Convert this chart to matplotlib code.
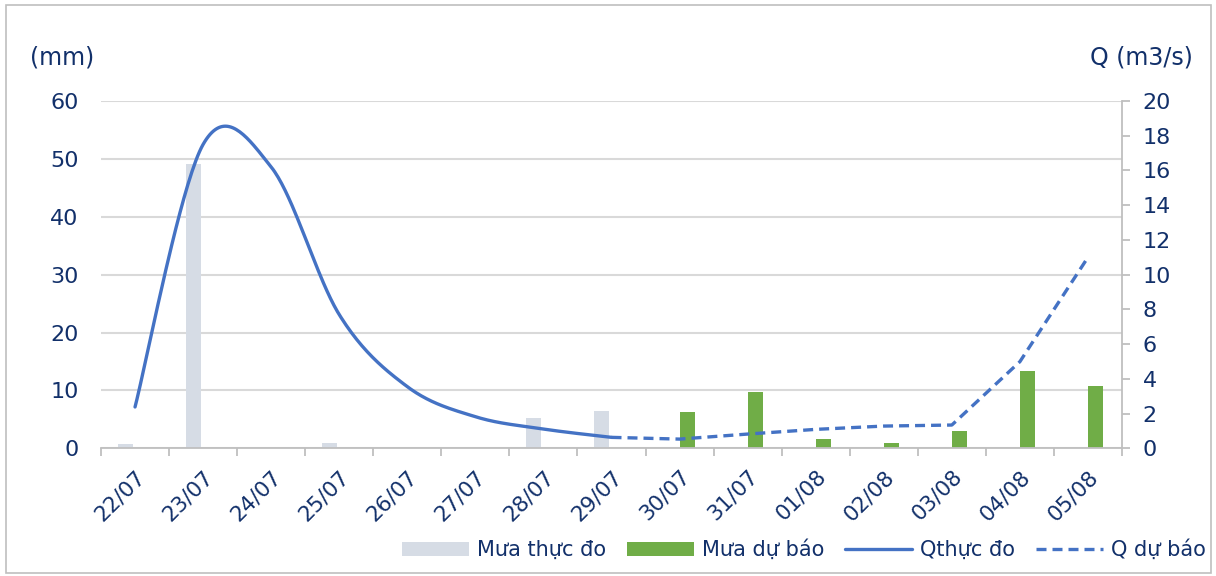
import numpy as np
import matplotlib
matplotlib.use("Agg")
import matplotlib.pyplot as plt
from matplotlib.patches import Rectangle

# --- Datos ---
ngay = ["22/07", "23/07", "24/07", "25/07", "26/07", "27/07", "28/07", "29/07",
        "30/07", "31/07", "01/08", "02/08", "03/08", "04/08", "05/08"]
nan = np.nan
mua_thuc_do = [0.75, 49.1, 0, 1.0, 0, 0, 5.2, 6.5, nan, nan, nan, nan, nan, nan, nan]
mua_du_bao = [nan, nan, nan, nan, nan, nan, nan, nan, 6.2, 9.7, 1.55, 0.85, 3.0, 13.4, 10.8]
q_thuc_do = [2.38, 17.5, 16.2, 7.7, 3.55, 1.82, 1.11, 0.63, nan, nan, nan, nan, nan, nan, nan]
q_du_bao = [nan, nan, nan, nan, nan, nan, nan, 0.63, 0.53, 0.82, 1.09, 1.28, 1.34, 4.99, 11.0]

txt = "#12306a"
xanh = "#4472c4"
xam = "#d6dce5"
luc = "#70ad47"
luoi = "#d9d9d9"
plt.rcParams['font.family'] = ['DejaVu Sans']


def lam_min(x, y, n=40):
    # duong cong kieu Excel (Catmull-Rom / Bezier)
    x = np.asarray(x, float)
    y = np.asarray(y, float)
    xs, ys = [], []
    for i in range(len(x) - 1):
        p0 = np.array([x[max(i - 1, 0)], y[max(i - 1, 0)]])
        p1 = np.array([x[i], y[i]])
        p2 = np.array([x[i + 1], y[i + 1]])
        p3 = np.array([x[min(i + 2, len(x) - 1)], y[min(i + 2, len(x) - 1)]])
        c1 = p1 + (p2 - p0) / 6
        c2 = p2 - (p3 - p1) / 6
        t = np.linspace(0, 1, n)[:, None]
        b = (1 - t) ** 3 * p1 + 3 * (1 - t) ** 2 * t * c1 + 3 * (1 - t) * t ** 2 * c2 + t ** 3 * p2
        xs.extend(b[:, 0])
        ys.extend(b[:, 1])
    return xs, ys


fig = plt.figure(figsize=(12.16, 5.76), dpi=100)
ax = fig.add_axes([101 / 1216, 1 - 448.3 / 576, (1122 - 101) / 1216, (448.3 - 101) / 576])
ax2 = ax.twinx()

x = np.arange(len(ngay))
w = 0.22
b1 = ax.bar(x - w / 2 - 0.03, mua_thuc_do, width=w, color=xam, label="Mưa thực đo", zorder=2)
b2 = ax.bar(x + w / 2, mua_du_bao, width=w, color=luc, label="Mưa dự báo", zorder=2)

qx = [i for i in x if not np.isnan(q_thuc_do[i])]
qy = [q_thuc_do[i] for i in qx]
sx, sy = lam_min(qx, qy)
l1, = ax2.plot(sx, sy, color=xanh, lw=2.4, solid_capstyle='round', label="Qthực đo")
l2, = ax2.plot(x, q_du_bao, color=xanh, lw=2.4, ls=(0, (3, 1.8)), label="Q dự báo")

ax.set_xlim(-0.5, len(ngay) - 0.5)
ax.set_ylim(0, 60)
ax2.set_ylim(0, 20)
ax.set_yticks(range(0, 61, 10))
ax2.set_yticks(range(0, 21, 2))
ax.yaxis.grid(True, color=luoi, lw=1.5)
ax.set_axisbelow(True)

ax.set_xticks(x)
ax.set_xticklabels(ngay, rotation=45, ha='right', va='top', rotation_mode='anchor')
ax.set_xticks(np.arange(-0.5, len(ngay)), minor=True)
ax.tick_params(axis='x', which='major', length=0, pad=13, labelsize=15.5, labelcolor=txt)
ax.tick_params(axis='x', which='minor', length=6, width=1.3, color="#bfbfbf")
ax.tick_params(axis='y', length=0, pad=16, labelsize=16, labelcolor=txt)
ax2.tick_params(axis='y', length=6, width=1.3, color="#bfbfbf", pad=9, labelsize=16, labelcolor=txt)

for a in (ax, ax2):
    for s in ('top', 'left', 'right', 'bottom'):
        a.spines[s].set_visible(False)
ax2.spines['right'].set_visible(True)
ax2.spines['right'].set_color("#bfbfbf")
ax2.spines['right'].set_linewidth(1.3)
ax.spines['bottom'].set_visible(True)
ax.spines['bottom'].set_color("#bfbfbf")
ax.spines['bottom'].set_linewidth(1.3)

fig.text(30 / 1216, 1 - 58 / 576, "(mm)", fontsize=17, color=txt, ha='left', va='center')
fig.text(1193 / 1216, 1 - 58 / 576, "Q (m3/s)", fontsize=17, color=txt, ha='right', va='center')

fig.legend(handles=[b1, b2, l1, l2], loc='center right', bbox_to_anchor=(1206 / 1216, 1 - 550 / 576),
           ncol=4, frameon=False, fontsize=15, labelcolor=txt, handlelength=3.2,
           handleheight=0.7, handletextpad=0.4, columnspacing=1.0, borderpad=0, borderaxespad=0)

fig.add_artist(Rectangle((6 / 1216, 3 / 576), 1205 / 1216, 568 / 576, transform=fig.transFigure,
                         fill=False, edgecolor="#bfbfbf", lw=1.2))

fig.savefig("out.png", dpi=100)
